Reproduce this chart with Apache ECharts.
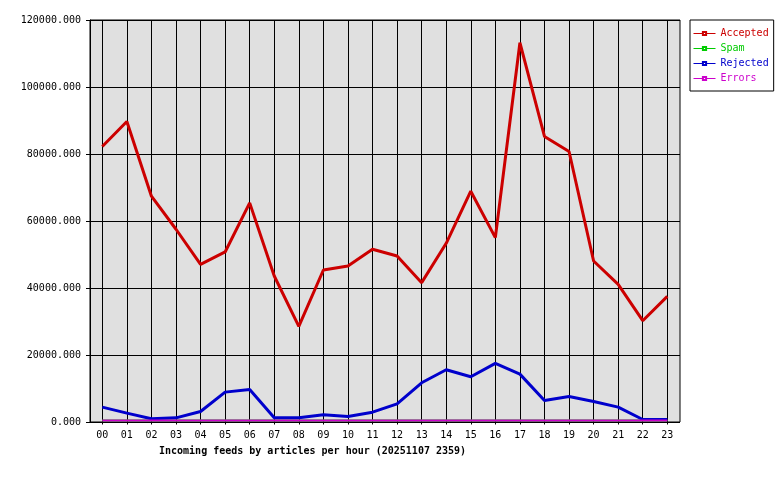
<!DOCTYPE html>
<html>
<head>
<meta charset="utf-8">
<script src="https://cdn.jsdelivr.net/npm/echarts@6/dist/echarts.min.js"></script>
<style>html,body{margin:0;padding:0;background:#fff}#c{width:780px;height:480px}</style>
</head>
<body>
<div id="c"></div>
<script>
var hours = ['00','01','02','03','04','05','06','07','08','09','10','11','12','13','14','15','16','17','18','19','20','21','22','23'];
var accepted = [82100, 89600, 67200, 57300, 46800, 50500, 65200, 43300, 28200, 45100, 46300, 51300, 49300, 41300, 53100, 68700, 54800, 113200, 85100, 80600, 47800, 40800, 29900, 37200];
var spam = [0,0,0,0,0,0,0,0,0,0,0,0,0,0,0,0,0,0,0,0,0,0,0,0];
var rejected = [4000, 2200, 500, 800, 2700, 8500, 9300, 800, 800, 1700, 1200, 2500, 5000, 11300, 15200, 13100, 17100, 13900, 6000, 7200, 5700, 4000, 300, 300];
var errors = [0,0,0,0,0,0,0,0,0,0,0,0,0,0,0,0,0,0,0,0,0,0,0,0];
var yTicks = [0, 20000, 40000, 60000, 80000, 100000, 120000];
var titleText = 'Incoming feeds by articles per hour (20251107 2359)';

var FONT = '"DejaVu Sans Mono", "Liberation Mono", monospace';
function pairs(arr){ return arr.map(function(v,i){ return [i, v]; }); }
function mkSeries(name, arr, color, width){
  return {
    name: name, type: 'line', xAxisIndex: 1, yAxisIndex: 1,
    data: pairs(arr), symbol: 'emptyRect', symbolSize: 4, showSymbol: false,
    clip: false, z: 5,
    lineStyle: {color: color, width: width}, itemStyle: {color: color},
    emphasis: {disabled: true}, animation: false
  };
}
var chart = echarts.init(document.getElementById('c'), null, {renderer: 'canvas'});
chart.setOption({
  animation: false,
  backgroundColor: '#fff',
  title: {
    text: titleText, left: 159, top: 446, padding: 0,
    textStyle: {fontFamily: FONT, fontSize: 10, fontWeight: 'bold', color: '#000'}
  },
  legend: {
    orient: 'vertical', left: 690, top: 20,
    backgroundColor: '#fff', borderColor: '#000', borderWidth: 1,
    padding: [8, 5, 7, 3], itemWidth: 22, itemHeight: 4, itemGap: 4, itemTextGap: 2,
    lineStyle: {width: 1},
    textStyle: {fontFamily: FONT, fontSize: 10, lineHeight: 11},
    data: [
      {name: 'Accepted', textStyle: {color: '#cc0000'}},
      {name: 'Spam', textStyle: {color: '#00cc00'}},
      {name: 'Rejected', textStyle: {color: '#0000cc'}},
      {name: 'Errors', textStyle: {color: '#cc00cc'}}
    ]
  },
  grid: [
    {left: 90, right: 100, top: 20, bottom: 58, show: true, backgroundColor: '#e0e0e0', borderColor: '#000', borderWidth: 1},
    {left: 102.3, right: 112.7, top: 20, bottom: 59.5}
  ],
  xAxis: [
    {gridIndex: 0, type: 'value', min: 0, max: 1, show: false},
    {gridIndex: 1, type: 'value', min: 0, max: 23, interval: 1,
     axisLine: {show: false},
     axisTick: {show: true, length: 4, lineStyle: {color: '#000'}},
     axisLabel: {margin: 9.5, fontFamily: FONT, fontSize: 10, color: '#000', formatter: function(v){ return hours[v]; }},
     splitLine: {show: true, lineStyle: {color: '#000', width: 1}}}
  ],
  yAxis: [
    {gridIndex: 0, type: 'value', min: yTicks[0], max: yTicks[yTicks.length-1], interval: yTicks[1]-yTicks[0],
     axisLine: {show: true, lineStyle: {color: '#000'}},
     axisTick: {show: true, length: 4, lineStyle: {color: '#000'}},
     axisLabel: {margin: 9, fontFamily: FONT, fontSize: 10, color: '#000', formatter: function(v){ return v.toFixed(3); }},
     splitLine: {show: true, lineStyle: {color: '#000', width: 1}}},
    {gridIndex: 1, type: 'value', min: yTicks[0], max: yTicks[yTicks.length-1], show: false}
  ],
  series: [
    mkSeries('Accepted', accepted, '#cc0000', 3),
    mkSeries('Spam', spam, '#00cc00', 2),
    mkSeries('Rejected', rejected, '#0000cc', 3),
    mkSeries('Errors', errors, '#cc00cc', 2)
  ]
});
</script>
</body>
</html>
